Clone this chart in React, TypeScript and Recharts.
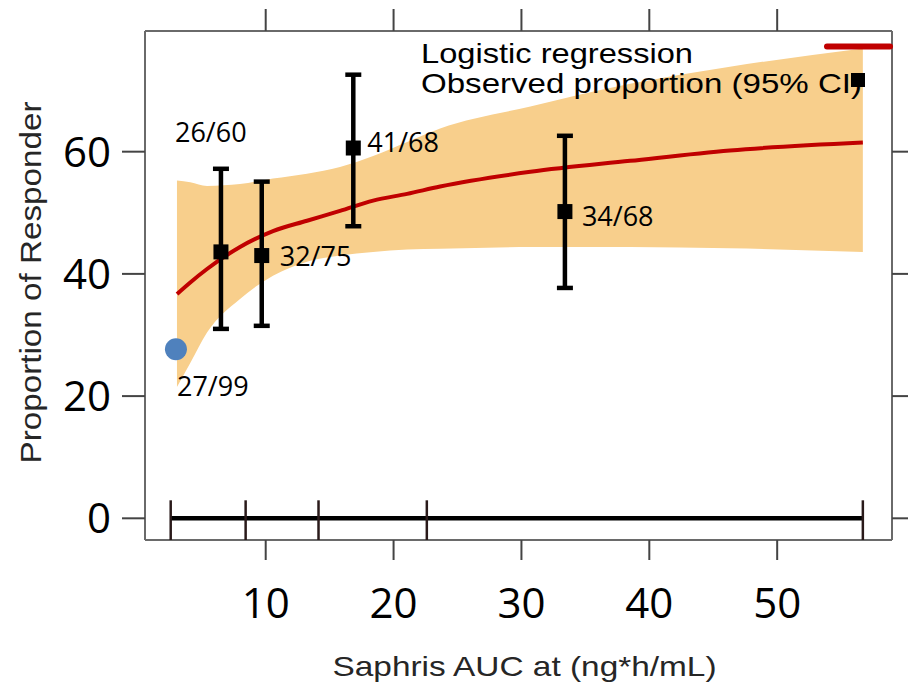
import React from 'react';
import { ComposedChart, Area, Line, Scatter, XAxis, YAxis, ErrorBar, Label } from 'recharts';

// logistic fit and its 95% band (AUC, % responders)
const curveAuc = [3.06, 4.1, 5.41, 7.99, 10.57, 13.23, 15.81, 18.4, 21.06, 23.64, 30.7, 38.5, 46.3, 56.7];
const fitPct = [36.7, 38.6, 40.8, 44.4, 47.0, 48.7, 50.3, 52.0, 53.1, 54.3, 56.7, 58.5, 60.2, 61.5];
const ciLow = [21.5, 25.4, 30.4, 35.9, 39.7, 42.0, 43.0, 43.6, 44.0, 44.1, 44.4, 44.4, 44.2, 43.6];
const ciHigh = [55.3, 55.0, 54.4, 54.7, 55.6, 56.4, 57.5, 59.3, 61.6, 63.8, 67.4, 71.1, 73.9, 76.9];

// observed proportions per exposure bin
const obsAuc = [6.5, 9.69, 16.85, 33.4];
const obsPct = [43.6, 43.0, 60.6, 50.2];
const obsLo = [31.0, 31.5, 47.8, 37.7];
const obsHi = [57.2, 55.1, 72.6, 62.6];
const obsText = ['26/60', '32/75', '41/68', '34/68'];

// placebo
const placeboAuc = [2.98];
const placeboPct = [27.66];
const placeboText = ['27/99'];

// exposure bin boundaries drawn along y = 0
const binEdges = [2.57, 8.43, 14.13, 22.6, 56.7];

const xTicks = [10, 20, 30, 40, 50];
const yTicks = [0, 20, 40, 60];

const curveData = curveAuc.map((x, i) => ({ x, fit: fitPct[i], band: [ciLow[i], ciHigh[i]] }));
const obsData = obsAuc.map((x, i) => ({ x, y: obsPct[i], err: [obsPct[i] - obsLo[i], obsHi[i] - obsPct[i]], text: obsText[i] }));
const placeboData = placeboAuc.map((x, i) => ({ x, y: placeboPct[i], text: placeboText[i] }));
const binData = binEdges.map((x) => ({ x, y: 0 }));

// where each count label sits relative to its marker (text start, baseline)
const obsNudge = [[-46, -110], [18, 10], [14, 4], [17, 14]];
const placeboNudge = [[1, 47]];

const FRAME = '#6a6a6a';
const TICK = '#444';
const labelFont = "'Open Sans', sans-serif";
const titleFont = "'Liberation Sans', Arial, sans-serif";

const countLabel = (cx: number, cy: number, text: string, nudge: number[]) => (
  <text x={cx + nudge[0]} y={cy + nudge[1]} fontSize={27} fontFamily={labelFont} fill="#000">
    {text}
  </text>
);

const ObsShape = (p: any) => (
  <g>
    <rect x={p.cx - 7.5} y={p.cy - 7.5} width={15} height={15} fill="#000" />
    {countLabel(p.cx, p.cy, p.payload.text, obsNudge[p.index] || [10, 0])}
  </g>
);

const PlaceboShape = (p: any) => (
  <g>
    <circle cx={p.cx} cy={p.cy} r={11} fill="#4f81bd" />
    {countLabel(p.cx, p.cy, p.payload.text, placeboNudge[p.index] || [0, 40])}
  </g>
);

const BinTick = (p: any) => (
  <line x1={p.cx} x2={p.cx} y1={p.cy - 18} y2={p.cy + 22} stroke="#2a1a1a" strokeWidth={2.5} />
);

const blank = () => <g />;

export default function App() {
  return (
    <div style={{ position: 'absolute', left: 0, top: 0, width: 908, height: 685, background: '#fff' }}>
      <ComposedChart width={908} height={685} data={curveData} margin={{ top: 9, right: 0, bottom: 0, left: 0 }}>
        <XAxis
          dataKey="x"
          type="number"
          domain={[0.56, 58.98]}
          allowDataOverflow
          ticks={xTicks}
          interval={0}
          height={145}
          tickSize={20}
          tickMargin={28}
          axisLine={{ stroke: FRAME, strokeWidth: 2 }}
          tickLine={{ stroke: TICK, strokeWidth: 2 }}
          tick={{ fontSize: 42, fill: '#000', fontFamily: labelFont }}
        >
          <Label
            content={(p: any) => {
              const vb = p.viewBox;
              return (
                <text x={vb.x + vb.width / 2 + 6} y={vb.y + 136} textAnchor="middle" fontSize={28} fontFamily={titleFont} fill="#262626" textLength={384} lengthAdjust="spacingAndGlyphs">
                  Saphris AUC at (ng*h/mL)
                </text>
              );
            }}
          />
        </XAxis>
        <XAxis
          xAxisId="top"
          orientation="top"
          dataKey="x"
          type="number"
          domain={[0.56, 58.98]}
          allowDataOverflow
          ticks={xTicks}
          interval={0}
          height={22}
          tickSize={22}
          axisLine={{ stroke: FRAME, strokeWidth: 2 }}
          tickLine={{ stroke: TICK, strokeWidth: 2 }}
          tick={blank}
        />
        <YAxis
          type="number"
          domain={[-3.55, 79.75]}
          allowDataOverflow
          ticks={yTicks}
          interval={0}
          width={145}
          tickSize={23}
          tickMargin={11}
          axisLine={{ stroke: FRAME, strokeWidth: 2 }}
          tickLine={{ stroke: TICK, strokeWidth: 2 }}
          tick={{ fontSize: 42, fill: '#000', fontFamily: labelFont }}
        >
          <Label
            content={(p: any) => {
              const vb = p.viewBox;
              const cx = vb.x + 30;
              const cy = vb.y + vb.height / 2 - 3;
              return (
                <text x={cx} y={cy} transform={`rotate(-90 ${cx} ${cy})`} textAnchor="middle" dominantBaseline="central" fontSize={30} fontFamily={titleFont} fill="#262626" textLength={362} lengthAdjust="spacingAndGlyphs">
                  Proportion of Responder
                </text>
              );
            }}
          />
        </YAxis>
        <YAxis
          yAxisId="right"
          orientation="right"
          type="number"
          domain={[-3.55, 79.75]}
          allowDataOverflow
          ticks={yTicks}
          interval={0}
          width={16}
          tickSize={16}
          axisLine={{ stroke: FRAME, strokeWidth: 2 }}
          tickLine={{ stroke: TICK, strokeWidth: 2 }}
          tick={blank}
        />
        <Area dataKey="band" type="monotone" fill="#f8cf8c" fillOpacity={1} stroke="none" isAnimationActive={false} />
        <Line dataKey="fit" type="monotone" stroke="#c00000" strokeWidth={4} dot={false} isAnimationActive={false} />
        <Scatter data={binData} dataKey="y" line={{ stroke: '#000', strokeWidth: 4.5 }} shape={BinTick} isAnimationActive={false} />
        <Scatter data={obsData} dataKey="y" shape={ObsShape} isAnimationActive={false}>
          <ErrorBar dataKey="err" direction="y" width={8} strokeWidth={4.5} stroke="#000" />
        </Scatter>
        <Scatter data={placeboData} dataKey="y" shape={PlaceboShape} isAnimationActive={false} />
      </ComposedChart>
      <svg width={908} height={685} style={{ position: 'absolute', left: 0, top: 0, pointerEvents: 'none' }}>
        <text x={421} y={63} fontSize={28} fontFamily={titleFont} fill="#000" textLength={272} lengthAdjust="spacingAndGlyphs">
          Logistic regression
        </text>
        <text x={421} y={93} fontSize={28} fontFamily={titleFont} fill="#000" textLength={441} lengthAdjust="spacingAndGlyphs">
          Observed proportion (95% CI)
        </text>
        <line x1={827} x2={890} y1={46.5} y2={46.5} stroke="#c00000" strokeWidth={6} strokeLinecap="round" />
        <rect x={851} y={73} width={14} height={14} fill="#000" />
      </svg>
    </div>
  );
}
